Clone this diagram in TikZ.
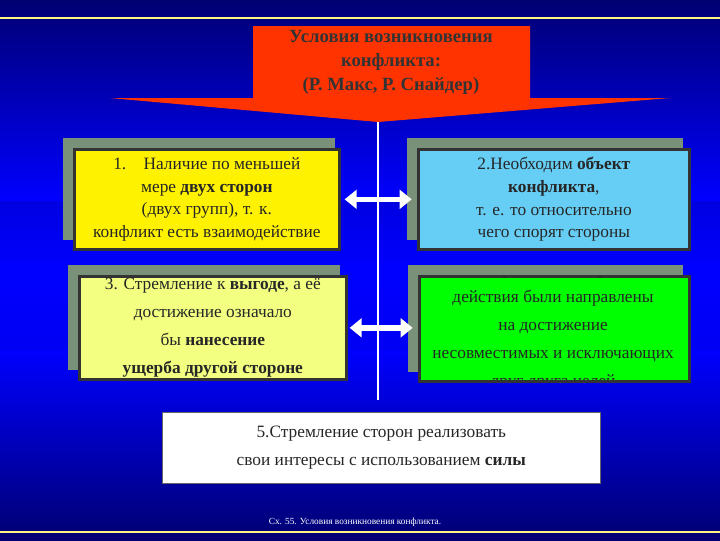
\documentclass[tikz,border=0pt]{standalone}
\usepackage{fontspec}
\setmainfont{Liberation Serif}
\usetikzlibrary{arrows.meta}
\begin{document}
\begin{tikzpicture}[x=0.75pt,y=-0.75pt,
  box/.style={draw=black!80,line width=2pt,align=center,inner sep=0pt,font=\fontsize{13}{17}\selectfont},
  shadowbox/.style={fill=gray!60!green!40!black!60,draw=none},
  txt/.style={align=center,font=\fontsize{13}{17}\selectfont,text=black!85},
  dbl/.style={{Triangle[width=14pt,length=9pt]}-{Triangle[width=14pt,length=9pt]},white,line width=4pt}]
\useasboundingbox (0,0) rectangle (720,540);
\shade[top color=blue!55!black,bottom color=blue!85!black,middle color=blue] (0,0) rectangle (720,540);
\shade[top color=blue!45!black,bottom color=blue] (0,0) rectangle (720,200);
\shade[top color=blue,bottom color=blue!45!black] (0,350) rectangle (720,540);
\draw[yellow!50!white,line width=1.5pt] (0,18) -- (720,18);
\draw[yellow!50!white,line width=1.5pt] (0,532) -- (720,532);
% title
\fill[red!80!orange!90!white,fill=orange!40!red] (110,98) -- (253,98) -- (253,26) -- (530,26) -- (530,98) -- (670,98) -- (378,122) -- cycle;
\node[align=center,font=\fontsize{14}{18}\selectfont\bfseries,text=black!80] (title) at (391,62) {Условия возникновения\\конфликта:\\(Р. Макс, Р. Снайдер)};
\coordinate (tip) at (378,122);
\coordinate (bot) at (378,400);
\draw[white,line width=2pt] (tip) -- (bot);
% shadows
\fill[shadowbox] (63,138) rectangle (335,240);
\fill[shadowbox] (407,138) rectangle (683,240);
\fill[shadowbox] (68,265) rectangle (340,370);
\fill[shadowbox] (408,265) rectangle (683,372);
% boxes
\node[box,fill=yellow,minimum width=265pt*0.75,minimum height=100pt*0.75,anchor=north west] (b1) at (73,148) {};
\node[txt] at (b1) {1.\quad Наличие по меньшей\\мере \textbf{двух сторон}\\(двух групп), т. к.\\конфликт есть взаимодействие};
\node[box,fill=cyan!60,minimum width=271pt*0.75,minimum height=100pt*0.75,anchor=north west] (b2) at (417,148) {};
\node[txt] at (b2) {2.Необходим \textbf{объект}\\\textbf{конфликта},\\т. е. то относительно\\чего спорят стороны};
\node[box,fill=yellow!40!green!30!white,fill=lime!40!yellow!50!white,minimum width=267pt*0.75,minimum height=103pt*0.75,anchor=north west] (b3) at (78,275) {};
\node[txt,font=\fontsize{13}{21}\selectfont] at (b3) {3. Стремление к \textbf{выгоде}, а её\\достижение означало\\бы \textbf{нанесение}\\\textbf{ущерба другой стороне}};
\node[box,fill=green,minimum width=270pt*0.75,minimum height=105pt*0.75,anchor=north west] (b4) at (418,275) {};
\begin{scope}
\clip (419,276) rectangle (687,379);
\node[txt,font=\fontsize{13}{21}\selectfont] at (553,327) {4.Совершаемые сторонами\\действия были направлены\\на достижение\\несовместимых и исключающих\\друг друга целей};
\end{scope}
\node[fill=white,draw=black!60,minimum width=438pt*0.75,minimum height=71pt*0.75,anchor=north west] (b5) at (162,412) {};
\node[txt,font=\fontsize{13}{21}\selectfont] at (b5) {5.Стремление сторон реализовать\\свои интересы с использованием \textbf{силы}};
\draw[dbl] (b1.east) ++(4,0) -- ([xshift=-4]b2.west);
\draw[dbl] (b3.east) ++(2,0) -- ([xshift=-4]b4.west |- b3.east);
\node[text=white,font=\fontsize{7}{8}\selectfont] (cap) at (355,522) {Сх. 55. Условия возникновения конфликта.};
\end{tikzpicture}
\end{document}
